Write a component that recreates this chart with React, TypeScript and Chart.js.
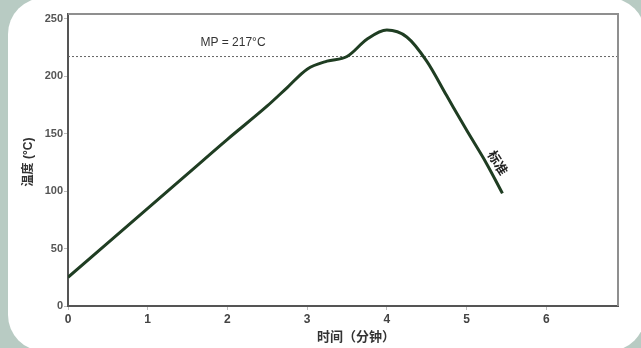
import React, { useEffect, useRef } from "react";
import { Chart, registerables } from "chart.js";

Chart.register(...registerables);

const timeMin = [0, 0.5, 1, 1.5, 2, 2.5, 2.75, 3, 3.25, 3.5, 3.75, 4, 4.25, 4.5, 4.75, 5, 5.25, 5.45];
const tempC = [25, 55, 85, 115, 145, 174, 190, 206, 213, 217, 232, 240, 234, 213, 183, 153, 124, 98];
const mpLineX = [0, 6.9];
const mpLineY = [217, 217];
const xTicks = [0, 1, 2, 3, 4, 5, 6];
const yTicks = [0, 50, 100, 150, 200, 250];
const mpLabel = "MP = 217°C";
const mpLabelPos = [2.07, 229];
const curveLabel = "标准";
const curveLabelPos = [5.38, 124];
const xTitle = "时间（分钟）";
const yTitle = "温度 (°C)";

const NUM_FONT = "'Liberation Sans', Arial, sans-serif";
const CJK_FONT = "'Liberation Sans', 'Noto Sans CJK SC', sans-serif";

export default function App() {
  const ref = useRef<HTMLCanvasElement>(null);
  useEffect(() => {
    if (!ref.current) return;
    const extras = {
      id: "extras",
      afterDraw(chart: any) {
        const { ctx, chartArea: a, scales } = chart;
        const xs = scales.x, ys = scales.y;
        ctx.save();
        ctx.strokeStyle = "#8f8f8f";
        ctx.lineWidth = 2;
        ctx.beginPath();
        ctx.moveTo(a.left, a.top);
        ctx.lineTo(a.right, a.top);
        ctx.lineTo(a.right, a.bottom);
        ctx.stroke();
        ctx.fillStyle = "#333";
        ctx.font = "12px " + NUM_FONT;
        ctx.textAlign = "center";
        ctx.textBaseline = "middle";
        ctx.fillText(mpLabel, xs.getPixelForValue(mpLabelPos[0]), ys.getPixelForValue(mpLabelPos[1]));
        ctx.save();
        ctx.translate(xs.getPixelForValue(curveLabelPos[0]), ys.getPixelForValue(curveLabelPos[1]));
        ctx.rotate((58 * Math.PI) / 180);
        ctx.font = "bold 13px " + CJK_FONT;
        ctx.fillStyle = "#222";
        ctx.fillText(curveLabel, 0, 0);
        ctx.restore();
        ctx.font = "bold 13px " + CJK_FONT;
        ctx.fillStyle = "#333";
        ctx.fillText(xTitle, (a.left + a.right) / 2 + 13, 337);
        ctx.save();
        ctx.translate(29, (a.top + a.bottom) / 2 + 2);
        ctx.rotate(-Math.PI / 2);
        ctx.font = "bold 12px " + CJK_FONT;
        ctx.fillText(yTitle, 0, 0);
        ctx.restore();
        ctx.restore();
      },
    };
    const chart = new Chart(ref.current, {
      type: "line",
      data: {
        datasets: [
          {
            data: timeMin.map((t, i) => ({ x: t, y: tempC[i] })),
            borderColor: "#1f3d22",
            borderWidth: 3,
            pointRadius: 0,
            tension: 0.4,
            cubicInterpolationMode: "monotone",
          },
          {
            data: mpLineX.map((t, i) => ({ x: t, y: mpLineY[i] })),
            borderColor: "#666",
            borderWidth: 1,
            borderDash: [2, 2],
            pointRadius: 0,
          },
        ],
      },
      options: {
        animation: false,
        responsive: false,
        maintainAspectRatio: false,
        layout: { padding: { left: 0, top: 14, right: 23, bottom: 0 } },
        plugins: { legend: { display: false }, tooltip: { enabled: false } },
        scales: {
          x: {
            type: "linear",
            min: 0,
            max: 6.9,
            afterFit: (s: any) => { s.height = 42; },
            afterBuildTicks: (s: any) => { s.ticks = xTicks.map((v) => ({ value: v })); },
            ticks: { stepSize: 1, includeBounds: false, color: "#444", padding: 2, font: { family: NUM_FONT, size: 12, weight: "bold" } },
            grid: { drawOnChartArea: false, tickLength: 4, color: "#bbb" },
            border: { display: true, color: "#555", width: 2 },
          },
          y: {
            min: 0,
            max: 254,
            afterFit: (s: any) => { s.width = 68; },
            afterBuildTicks: (s: any) => { s.ticks = yTicks.map((v) => ({ value: v })); },
            ticks: { stepSize: 50, includeBounds: false, color: "#555", padding: 1, font: { family: NUM_FONT, size: 11, weight: "bold" } },
            grid: { drawOnChartArea: false, tickLength: 4, color: "#bbb" },
            border: { display: true, color: "#555", width: 2 },
          },
        },
      },
      plugins: [extras],
    } as any);
    return () => chart.destroy();
  }, []);
  return (
    <div style={{ position: "fixed", left: 0, top: 0, width: 641, height: 348, background: "#b8cbc3", overflow: "hidden" }}>
      <div style={{ position: "absolute", left: 8, top: -2, width: 637, height: 353, background: "#fff", borderRadius: 36 }} />
      <canvas ref={ref} width={641} height={348} style={{ position: "absolute", left: 0, top: 0, width: 641, height: 348 }} />
    </div>
  );
}
